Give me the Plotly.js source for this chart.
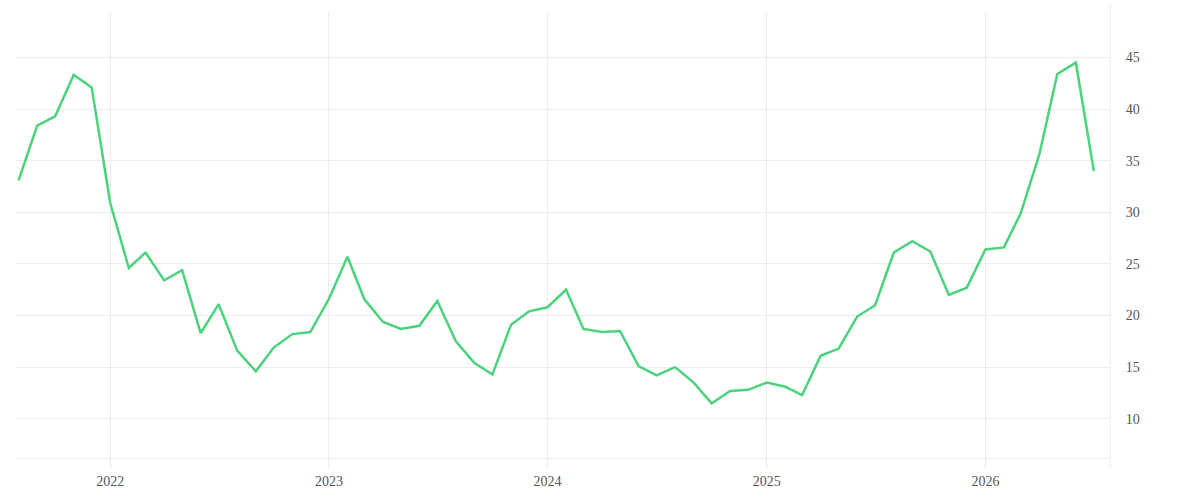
<!DOCTYPE html>
<html>
<head>
<meta charset="utf-8">
<script src="https://cdn.plot.ly/plotly-3.0.1.min.js"></script>
<style>html,body{margin:0;padding:0;background:#fff;}#chart{width:1200px;height:500px;}</style>
</head>
<body>
<div id="chart"></div>
<script>
const months = [
  "2021-08-01","2021-09-01","2021-10-01","2021-11-01","2021-12-01",
  "2022-01-01","2022-02-01","2022-03-01","2022-04-01","2022-05-01","2022-06-01",
  "2022-07-01","2022-08-01","2022-09-01","2022-10-01","2022-11-01","2022-12-01",
  "2023-01-01","2023-02-01","2023-03-01","2023-04-01","2023-05-01","2023-06-01",
  "2023-07-01","2023-08-01","2023-09-01","2023-10-01","2023-11-01","2023-12-01",
  "2024-01-01","2024-02-01","2024-03-01","2024-04-01","2024-05-01","2024-06-01",
  "2024-07-01","2024-08-01","2024-09-01","2024-10-01","2024-11-01","2024-12-01",
  "2025-01-01","2025-02-01","2025-03-01","2025-04-01","2025-05-01","2025-06-01",
  "2025-07-01","2025-08-01","2025-09-01","2025-10-01","2025-11-01","2025-12-01",
  "2026-01-01","2026-02-01","2026-03-01","2026-04-01","2026-05-01","2026-06-01",
  "2026-07-01"
];
const values = [
  33.1, 38.4, 39.3, 43.3, 42.1,
  30.9, 24.6, 26.1, 23.4, 24.4, 18.3,
  21.1, 16.6, 14.6, 16.9, 18.2, 18.4,
  21.6, 25.7, 21.6, 19.4, 18.7, 19.0,
  21.4, 17.5, 15.4, 14.3, 19.1, 20.4,
  20.8, 22.5, 18.7, 18.4, 18.5, 15.1,
  14.2, 15.0, 13.5, 11.5, 12.7, 12.8,
  13.5, 13.1, 12.3, 16.1, 16.8, 19.9,
  21.0, 26.1, 27.2, 26.2, 22.0, 22.7,
  26.4, 26.6, 29.9, 35.6, 43.4, 44.5,
  34.0
];
const yTicks = [10, 15, 20, 25, 30, 35, 40, 45];
const xTicks = ["2022-01-01","2023-01-01","2024-01-01","2025-01-01","2026-01-01"];
const xTickText = ["2022","2023","2024","2025","2026"];

const trace = {
  x: months,
  y: values,
  type: 'scatter',
  mode: 'lines',
  line: {color: '#4bd27c', width: 2.5},
  hoverinfo: 'x+y'
};

const grid = '#ececec';
const tickFont = {family: '"Liberation Serif", serif', size: 14, color: '#555'};
const layout = {
  width: 1200,
  height: 500,
  margin: {l: 15, r: 90, t: 12, b: 42},
  paper_bgcolor: '#ffffff',
  plot_bgcolor: '#ffffff',
  showlegend: false,
  font: tickFont,
  xaxis: {
    type: 'date',
    range: ['2021-07-26', '2026-07-28'],
    tickmode: 'array',
    tickvals: xTicks,
    ticktext: xTickText,
    showgrid: true,
    gridcolor: grid,
    gridwidth: 1,
    zeroline: false,
    showline: true,
    linecolor: grid,
    linewidth: 1,
    ticks: 'outside',
    ticklen: 10,
    tickcolor: grid,
    tickfont: tickFont
  },
  yaxis: {
    side: 'right',
    range: [6.2, 49.4],
    tickmode: 'array',
    tickvals: yTicks,
    showgrid: true,
    gridcolor: grid,
    gridwidth: 1,
    zeroline: false,
    showline: false,
    ticks: 'outside',
    ticklen: 12,
    tickcolor: 'rgba(0,0,0,0)',
    tickfont: tickFont
  },
  shapes: [{
    type: 'line', xref: 'paper', yref: 'paper',
    x0: 1, x1: 1, y0: -0.0224, y1: 1.0157,
    line: {color: grid, width: 1}
  }]
};

Plotly.newPlot('chart', [trace], layout, {displayModeBar: false, staticPlot: true});
</script>
</body>
</html>
